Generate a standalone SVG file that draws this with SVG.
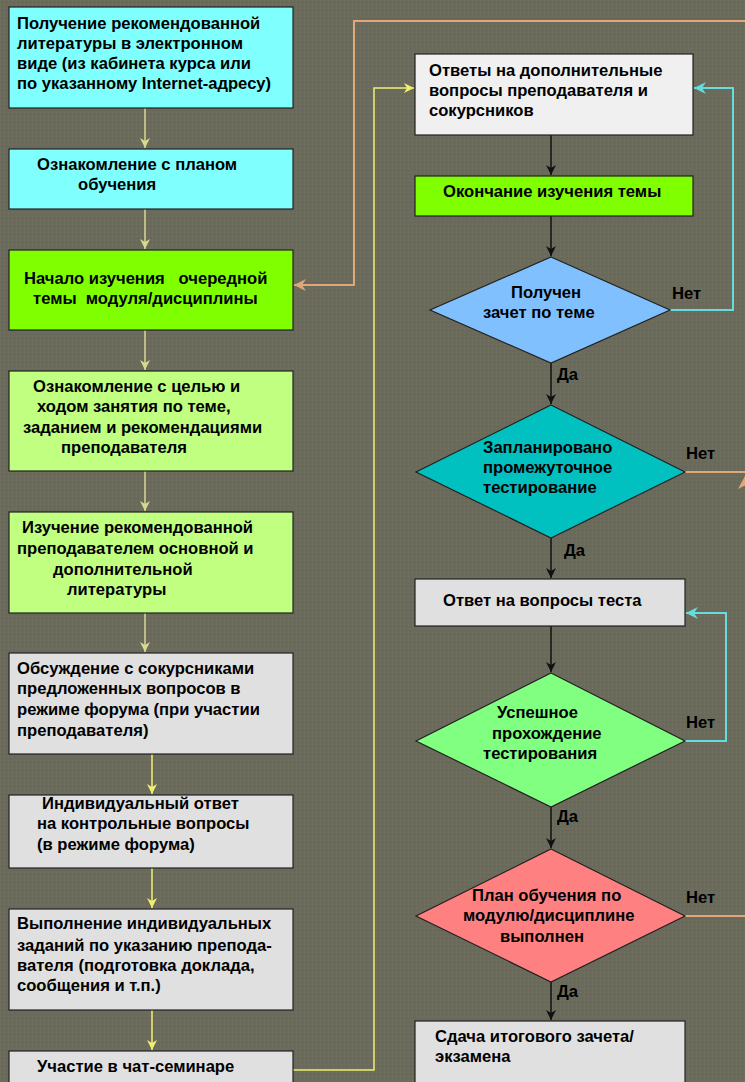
<svg xmlns="http://www.w3.org/2000/svg" width="745" height="1082" viewBox="0 0 745 1082">
<defs>
<style>
.t{font-family:"Liberation Sans",Arial,sans-serif;font-weight:bold;font-size:16.6px;fill:#000}
.bx{stroke:#222;stroke-width:1.2}
.ln{fill:none;stroke-width:1.5}
.y1{stroke:#d8d890}
.y2{stroke:#f0f070}
.bk{stroke:#111}
.cy{stroke:#66dddd;stroke-width:2}
.or{stroke:#e0a878;stroke-width:2}
</style>
<marker id="aY1" markerWidth="12" markerHeight="12" refX="11" refY="6" orient="auto" markerUnits="userSpaceOnUse"><path d="M1,1 L11,6 L1,11 L4,6 z" fill="#d8d890"/></marker>
<marker id="aY2" markerWidth="12" markerHeight="12" refX="11" refY="6" orient="auto" markerUnits="userSpaceOnUse"><path d="M1,1 L11,6 L1,11 L4,6 z" fill="#f0f070"/></marker>
<marker id="aK" markerWidth="12" markerHeight="12" refX="11" refY="6" orient="auto" markerUnits="userSpaceOnUse"><path d="M1,1 L11,6 L1,11 L4,6 z" fill="#111"/></marker>
<marker id="aC" markerWidth="14" markerHeight="14" refX="13" refY="7" orient="auto" markerUnits="userSpaceOnUse"><path d="M1,1 L13,7 L1,13 L5,7 z" fill="#66dddd"/></marker>
<marker id="aO" markerWidth="14" markerHeight="14" refX="13" refY="7" orient="auto" markerUnits="userSpaceOnUse"><path d="M1,1 L13,7 L1,13 L5,7 z" fill="#e0a878"/></marker>
<pattern id="dots" width="4" height="4" patternUnits="userSpaceOnUse"><rect width="4" height="4" fill="#6b6b5d"/><rect x="0" y="0" width="1" height="1" fill="#72725f"/><rect x="2" y="2" width="1" height="1" fill="#636356"/></pattern>
</defs>
<rect width="745" height="1082" fill="url(#dots)"/>

<g id="connectors">
<line class="ln y1" x1="145" y1="108" x2="145" y2="148" marker-end="url(#aY1)"/>
<line class="ln y1" x1="145" y1="209" x2="145" y2="249" marker-end="url(#aY1)"/>
<line class="ln y1" x1="145" y1="330" x2="145" y2="370" marker-end="url(#aY1)"/>
<line class="ln y1" x1="145" y1="471" x2="145" y2="511" marker-end="url(#aY1)"/>
<line class="ln y1" x1="145" y1="613" x2="145" y2="652" marker-end="url(#aY1)"/>
<line class="ln y2" x1="152" y1="754" x2="152" y2="794" marker-end="url(#aY2)"/>
<line class="ln y2" x1="152" y1="868" x2="152" y2="908" marker-end="url(#aY2)"/>
<line class="ln y2" x1="152" y1="1010" x2="152" y2="1050" marker-end="url(#aY2)"/>
<polyline class="ln y2" points="293,1070 374,1070 374,88 414,88" marker-end="url(#aY2)"/>
<polyline class="ln or" points="685,916 750,916 750,21 354,21 354,285 294,285" marker-end="url(#aO)"/>
<line class="ln or" x1="685" y1="472" x2="750" y2="472"/>
<polygon points="746,474 738,489 746,485" fill="#e0a878"/>
<line class="ln bk" x1="551" y1="135" x2="551" y2="175" marker-end="url(#aK)"/>
<line class="ln bk" x1="551" y1="216" x2="551" y2="256" marker-end="url(#aK)"/>
<line class="ln bk" x1="551" y1="363" x2="551" y2="404" marker-end="url(#aK)"/>
<line class="ln bk" x1="551" y1="538" x2="551" y2="578" marker-end="url(#aK)"/>
<line class="ln bk" x1="551" y1="626" x2="551" y2="672" marker-end="url(#aK)"/>
<line class="ln bk" x1="551" y1="807" x2="551" y2="848" marker-end="url(#aK)"/>
<line class="ln bk" x1="551" y1="982" x2="551" y2="1020" marker-end="url(#aK)"/>
<polyline class="ln cy" points="670,310 733,310 733,88 694,88" marker-end="url(#aC)"/>
<polyline class="ln cy" points="685,741 726,741 726,613 686,613" marker-end="url(#aC)"/>
<text class="t" x="672" y="299">Нет</text>
<text class="t" x="557" y="380">Да</text>
<text class="t" x="686" y="459">Нет</text>
<text class="t" x="564" y="556">Да</text>
<text class="t" x="686" y="728">Нет</text>
<text class="t" x="557" y="822">Да</text>
<text class="t" x="686" y="903">Нет</text>
<text class="t" x="557" y="997">Да</text>
</g>

<g id="n1"><rect class="bx" x="9" y="7" width="284" height="101" fill="#80ffff"/>
<text class="t" x="17" y="29">Получение рекомендованной</text>
<text class="t" x="17" y="49">литературы в электронном</text>
<text class="t" x="17" y="69">виде (из кабинета курса или</text>
<text class="t" x="17" y="89">по указанному Internet-адресу)</text></g>

<g id="n2"><rect class="bx" x="9" y="149" width="284" height="60" fill="#80ffff"/>
<text class="t" x="37" y="170">Ознакомление с планом</text>
<text class="t" x="78" y="190">обучения</text></g>

<g id="n3"><rect class="bx" x="9" y="250" width="284" height="80" fill="#80ff00"/>
<text class="t" x="24" y="284" xml:space="preserve">Начало изучения   очередной</text>
<text class="t" x="33" y="304" xml:space="preserve">темы  модуля/дисциплины</text></g>

<g id="n4"><rect class="bx" x="9" y="371" width="284" height="100" fill="#c0ff80"/>
<text class="t" x="33" y="392">Ознакомление с целью и</text>
<text class="t" x="37" y="412">ходом занятия по теме,</text>
<text class="t" x="23" y="433">заданием и рекомендациями</text>
<text class="t" x="61" y="453">преподавателя</text></g>

<g id="n5"><rect class="bx" x="9" y="512" width="284" height="101" fill="#c0ff80"/>
<text class="t" x="22" y="533">Изучение рекомендованной</text>
<text class="t" x="17" y="554">преподавателем основной и</text>
<text class="t" x="53" y="575">дополнительной</text>
<text class="t" x="67" y="595">литературы</text></g>

<g id="n6"><rect class="bx" x="9" y="653" width="284" height="101" fill="#e0e0e0"/>
<text class="t" x="17" y="674">Обсуждение с сокурсниками</text>
<text class="t" x="17" y="694">предложенных вопросов в</text>
<text class="t" x="17" y="715">режиме форума (при участии</text>
<text class="t" x="17" y="736">преподавателя)</text></g>

<g id="n7"><rect class="bx" x="9" y="795" width="284" height="73" fill="#e0e0e0"/>
<text class="t" x="42" y="809">Индивидуальный ответ</text>
<text class="t" x="37" y="829">на контрольные вопросы</text>
<text class="t" x="37" y="850">(в режиме форума)</text></g>

<g id="n8"><rect class="bx" x="9" y="909" width="284" height="101" fill="#e0e0e0"/>
<text class="t" x="17" y="929">Выполнение индивидуальных</text>
<text class="t" x="17" y="951">заданий по указанию препода-</text>
<text class="t" x="17" y="971">вателя (подготовка доклада,</text>
<text class="t" x="17" y="991">сообщения и т.п.)</text></g>

<g id="n9"><rect class="bx" x="9" y="1051" width="284" height="60" fill="#e0e0e0"/>
<text class="t" x="37" y="1072">Участие в чат-семинаре</text></g>

<g id="nA"><rect class="bx" x="415" y="54" width="278" height="81" fill="#f0f0f0"/>
<text class="t" x="429" y="76">Ответы на дополнительные</text>
<text class="t" x="429" y="96">вопросы преподавателя и</text>
<text class="t" x="429" y="116">сокурсников</text></g>

<g id="nB"><rect class="bx" x="415" y="176" width="278" height="40" fill="#80ff00"/>
<text class="t" x="443" y="197">Окончание изучения темы</text></g>

<g id="nC"><polygon class="bx" points="551,257 670,310 551,363 430,310" fill="#80c0ff" stroke-width="0.8"/>
<text class="t" x="511" y="298">Получен</text>
<text class="t" x="483" y="318">зачет по теме</text></g>

<g id="nD"><polygon class="bx" points="551,405 685,472 551,538 416,472" fill="#00c0c0" stroke-width="0.8"/>
<text class="t" x="483" y="453">Запланировано</text>
<text class="t" x="483" y="473">промежуточное</text>
<text class="t" x="483" y="493">тестирование</text></g>

<g id="nE"><rect class="bx" x="415" y="579" width="270" height="47" fill="#e0e0e0"/>
<text class="t" x="443" y="606">Ответ на вопросы теста</text></g>

<g id="nF"><polygon class="bx" points="551,673 685,741 551,807 416,741" fill="#80ff80" stroke-width="0.8"/>
<text class="t" x="497" y="718">Успешное</text>
<text class="t" x="492" y="739">прохождение</text>
<text class="t" x="483" y="759">тестирования</text></g>

<g id="nG"><polygon class="bx" points="551,849 685,916 551,982 416,916" fill="#ff8080" stroke-width="0.8"/>
<text class="t" x="472" y="901">План обучения по</text>
<text class="t" x="463" y="921">модулю/дисциплине</text>
<text class="t" x="500" y="942">выполнен</text></g>

<g id="nH"><rect class="bx" x="415" y="1021" width="270" height="80" fill="#e0e0e0"/>
<text class="t" x="435" y="1042">Сдача итогового зачета/</text>
<text class="t" x="435" y="1062">экзамена</text></g>
</svg>
